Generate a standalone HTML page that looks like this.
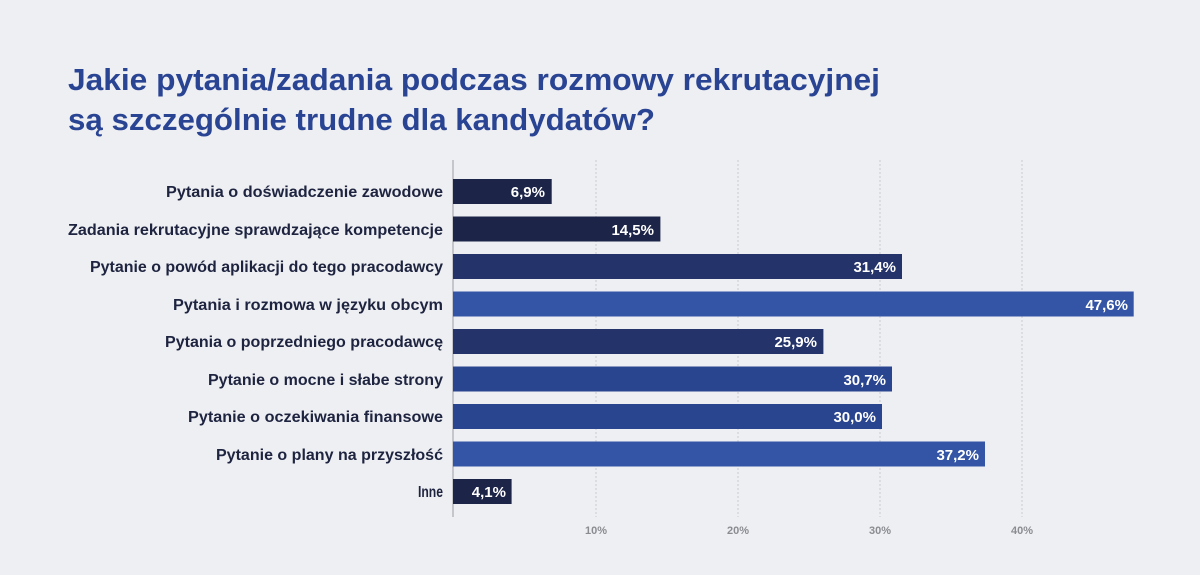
<!DOCTYPE html>
<html><head><meta charset="utf-8"><style>
html,body{margin:0;padding:0;background:#eeeff2;}
svg{display:block;}
text{font-family:"Liberation Sans Narrow","Liberation Sans",sans-serif;font-weight:bold;}
</style></head><body>
<svg width="1200" height="575" viewBox="0 0 1200 575" xmlns="http://www.w3.org/2000/svg">
<rect width="1200" height="575" fill="#eeeff2"/>
<text x="68" y="90" font-size="31" fill="#2a4494" textLength="812" lengthAdjust="spacingAndGlyphs">Jakie pytania/zadania podczas rozmowy rekrutacyjnej</text>
<text x="68" y="130" font-size="31" fill="#2a4494" textLength="587" lengthAdjust="spacingAndGlyphs">są szczególnie trudne dla kandydatów?</text>
<g stroke="#c9cbd1" stroke-width="1" stroke-dasharray="2,2">
<line x1="596" y1="160" x2="596" y2="517"/><line x1="738" y1="160" x2="738" y2="517"/>
<line x1="880" y1="160" x2="880" y2="517"/><line x1="1022" y1="160" x2="1022" y2="517"/>
</g>
<line x1="453" y1="160" x2="453" y2="517" stroke="#c4c6cc" stroke-width="2"/>
<g font-size="11" fill="#8a8c92" text-anchor="middle">
<text x="596" y="534">10%</text><text x="738" y="534">20%</text><text x="880" y="534">30%</text><text x="1022" y="534">40%</text>
</g>
<g font-size="16" fill="#1e2440" text-anchor="end">
<text x="443" y="197" textLength="277" lengthAdjust="spacingAndGlyphs">Pytania o doświadczenie zawodowe</text>
<text x="443" y="235" textLength="375" lengthAdjust="spacingAndGlyphs">Zadania rekrutacyjne sprawdzające kompetencje</text>
<text x="443" y="272" textLength="353" lengthAdjust="spacingAndGlyphs">Pytanie o powód aplikacji do tego pracodawcy</text>
<text x="443" y="310" textLength="270" lengthAdjust="spacingAndGlyphs">Pytania i rozmowa w języku obcym</text>
<text x="443" y="347" textLength="278" lengthAdjust="spacingAndGlyphs">Pytania o poprzedniego pracodawcę</text>
<text x="443" y="385" textLength="235" lengthAdjust="spacingAndGlyphs">Pytanie o mocne i słabe strony</text>
<text x="443" y="422" textLength="255" lengthAdjust="spacingAndGlyphs">Pytanie o oczekiwania finansowe</text>
<text x="443" y="460" textLength="227" lengthAdjust="spacingAndGlyphs">Pytanie o plany na przyszłość</text>
<text x="443" y="497" textLength="25" lengthAdjust="spacingAndGlyphs">Inne</text>
</g>
<g>
<rect x="453" y="179" width="98.7" height="25" fill="#1c2448"/>
<rect x="453" y="216.5" width="207.4" height="25" fill="#1c2448"/>
<rect x="453" y="254" width="449" height="25" fill="#24336a"/>
<rect x="453" y="291.5" width="680.7" height="25" fill="#3455a6"/>
<rect x="453" y="329" width="370.4" height="25" fill="#24336a"/>
<rect x="453" y="366.5" width="439" height="25" fill="#2a4590"/>
<rect x="453" y="404" width="429" height="25" fill="#2a4590"/>
<rect x="453" y="441.5" width="532" height="25" fill="#3455a6"/>
<rect x="453" y="479" width="58.6" height="25" fill="#1c2448"/>
</g>
<g font-size="15" fill="#ffffff" text-anchor="end">
<text x="545" y="197">6,9%</text>
<text x="654" y="235">14,5%</text>
<text x="896" y="272">31,4%</text>
<text x="1128" y="310">47,6%</text>
<text x="817" y="347">25,9%</text>
<text x="886" y="385">30,7%</text>
<text x="876" y="422">30,0%</text>
<text x="979" y="460">37,2%</text>
<text x="506" y="497">4,1%</text>
</g>
</svg>
</body></html>
